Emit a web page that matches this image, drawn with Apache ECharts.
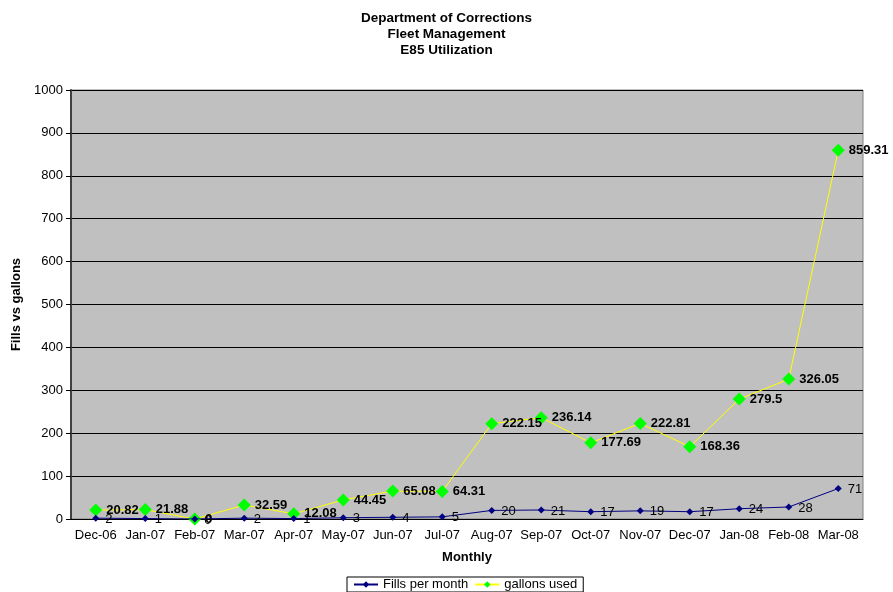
<!DOCTYPE html>
<html>
<head>
<meta charset="utf-8">
<script src="https://cdn.jsdelivr.net/npm/echarts@6/dist/echarts.min.js"></script>
<style>
  html, body { margin: 0; padding: 0; background: #fff; }
  #chart { width: 893px; height: 592px; }
</style>
</head>
<body>
<div id="chart"></div>
<script>
// months along the x axis
var months = ['Dec-06', 'Jan-07', 'Feb-07', 'Mar-07', 'Apr-07', 'May-07', 'Jun-07', 'Jul-07',
  'Aug-07', 'Sep-07', 'Oct-07', 'Nov-07', 'Dec-07', 'Jan-08', 'Feb-08', 'Mar-08']
var fills = [2, 1, 0, 2, 1, 3, 4, 5, 20, 21, 17, 19, 17, 24, 28, 71]
var gallons = [20.82, 21.88, 0, 32.59, 12.08, 44.45, 65.08, 64.31, 222.15, 236.14, 177.69,
  222.81, 168.36, 279.5, 326.05, 859.31]

var font = 'Liberation Sans, Arial, sans-serif'
var chart = echarts.init(document.getElementById('chart'))
chart.setOption({
  animation: false,
  textStyle: { fontFamily: font },
  title: {
    text: 'Department of Corrections\nFleet Management\nE85 Utilization',
    left: 'center',
    top: 5,
    textStyle: { fontSize: 13.5, fontWeight: 'bold', color: '#000', lineHeight: 16, fontFamily: font }
  },
  legend: {
    bottom: 0,
    left: 347,
    itemWidth: 24,
    itemHeight: 8,
    itemGap: 6,
    padding: [1, 6],
    borderColor: '#000',
    borderWidth: 1,
    textStyle: { fontSize: 13, color: '#000', fontFamily: font },
    data: ['Fills per month', 'gallons used']
  },
  grid: {
    left: 71, right: 30, top: 90, bottom: 73,
    show: true,
    backgroundColor: '#C0C0C0',
    borderColor: '#808080',
    borderWidth: 1
  },
  xAxis: {
    type: 'category',
    data: months,
    name: 'Monthly',
    nameLocation: 'middle',
    nameGap: 32,
    nameTextStyle: { fontSize: 13, fontWeight: 'bold', color: '#000' },
    axisLine: { lineStyle: { color: '#000' } },
    axisTick: { alignWithLabel: false, length: 5, lineStyle: { color: '#000' } },
    axisLabel: { fontSize: 13, color: '#000', margin: 10, interval: 0 }
  },
  yAxis: {
    type: 'value',
    min: 0,
    max: 1000,
    interval: 100,
    name: 'Fills vs gallons',
    nameLocation: 'middle',
    nameGap: 47,
    nameTextStyle: { fontSize: 13, fontWeight: 'bold', color: '#000' },
    axisLine: { show: true, lineStyle: { color: '#404040', width: 2 } },
    axisTick: { show: true, length: 5, lineStyle: { color: '#000' } },
    axisLabel: { fontSize: 13, color: '#000', margin: 8, formatter: function (v) { return String(v) } },
    splitLine: { lineStyle: { color: '#000', width: 1 } }
  },
  series: [
    {
      name: 'Fills per month',
      type: 'line',
      data: fills,
      symbol: 'diamond',
      symbolSize: 7,
      z: 3,
      lineStyle: { color: '#000080', width: 1 },
      itemStyle: { color: '#000080' },
      label: {
        show: true,
        position: 'right',
        distance: 6,
        offset: [0, 1],
        fontSize: 13,
        color: '#000',
        fontFamily: font
      }
    },
    {
      name: 'gallons used',
      type: 'line',
      data: gallons,
      symbol: 'diamond',
      symbolSize: 13,
      z: 2,
      lineStyle: { color: '#FFFF00', width: 1 },
      itemStyle: { color: '#00FF00' },
      label: {
        show: true,
        position: 'right',
        distance: 4,
        fontSize: 13,
        fontWeight: 'bold',
        color: '#000',
        fontFamily: font
      }
    }
  ]
})
</script>
</body>
</html>
